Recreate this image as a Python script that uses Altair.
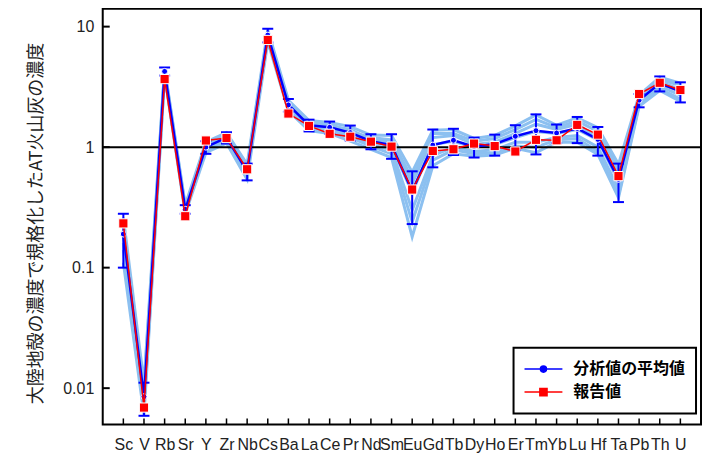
import altair as alt
import pandas as pd

elements = ["Sc", "V", "Rb", "Sr", "Y", "Zr", "Nb", "Cs", "Ba", "La", "Ce", "Pr", "Nd", "Sm",
            "Eu", "Gd", "Tb", "Dy", "Ho", "Er", "Tm", "Yb", "Lu", "Hf", "Ta", "Pb", "Th", "U"]

mean_values = [0.19, 0.0085, 4.25, 0.305, 1.0, 1.2, 0.63, 8.5, 2.24, 1.52, 1.46, 1.32, 1.12, 1.04,
               0.43, 1.04, 1.14, 1.01, 1.06, 1.23, 1.37, 1.31, 1.43, 1.16, 0.54, 2.45, 3.38, 2.9]
mean_sd = [0.09, 0.0026, 0.33, 0.025, 0.12, 0.13, 0.1, 1.1, 0.27, 0.17, 0.17, 0.19, 0.16, 0.24,
           0.2, 0.36, 0.28, 0.19, 0.21, 0.29, 0.5, 0.23, 0.35, 0.31, 0.19, 0.31, 0.48, 0.55]
reported_values = [0.233, 0.0069, 3.67, 0.267, 1.135, 1.19, 0.655, 7.75, 1.9, 1.5, 1.29, 1.22, 1.11, 1.01,
                   0.445, 0.93, 0.96, 1.07, 1.02, 0.92, 1.15, 1.14, 1.53, 1.27, 0.575, 2.76, 3.42, 2.98]

sample_a = [0.26, 0.011, 4.5, 0.33, 1.1, 1.32, 0.72, 9.4, 2.45, 1.66, 1.6, 1.48, 1.26, 1.25,
            0.62, 1.38, 1.4, 1.18, 1.25, 1.5, 1.85, 1.52, 1.75, 1.45, 0.72, 2.7, 3.8, 3.4]
sample_b = [0.11, 0.006, 3.95, 0.28, 0.9, 1.08, 0.54, 7.5, 2.0, 1.37, 1.3, 1.12, 0.96, 0.82,
            0.18, 0.7, 0.88, 0.84, 0.86, 0.98, 0.9, 1.1, 1.1, 0.87, 0.38, 2.18, 2.95, 2.4]
sample_c = [0.2, 0.009, 4.3, 0.31, 1.02, 1.22, 0.6, 8.8, 2.3, 1.55, 1.5, 1.4, 1.15, 1.1,
            0.5, 1.2, 1.25, 1.05, 1.1, 1.3, 1.55, 1.4, 1.55, 1.2, 0.6, 2.5, 3.5, 3.0]
sample_d = [0.16, 0.0075, 4.1, 0.29, 0.95, 1.15, 0.66, 8.0, 2.1, 1.45, 1.38, 1.25, 1.05, 0.95,
            0.3, 0.85, 1.0, 0.92, 0.95, 1.1, 1.1, 1.2, 1.25, 1.0, 0.45, 2.3, 3.2, 2.7]
sample_e = [0.22, 0.01, 4.4, 0.32, 1.06, 1.28, 0.68, 9.0, 2.38, 1.6, 1.55, 1.35, 1.2, 1.15,
            0.55, 1.3, 1.3, 1.12, 1.18, 1.4, 1.7, 1.45, 1.65, 1.35, 0.66, 2.6, 3.65, 3.25]
sample_f = [0.14, 0.007, 4.0, 0.3, 0.98, 1.12, 0.58, 8.2, 2.15, 1.42, 1.35, 1.2, 1.02, 0.88,
            0.24, 0.78, 0.95, 0.88, 0.9, 1.02, 1.0, 1.15, 1.18, 0.92, 0.4, 2.25, 3.05, 2.5]
sample_g = [0.18, 0.0085, 4.2, 0.305, 1.0, 1.2, 0.64, 8.5, 2.25, 1.5, 1.45, 1.3, 1.1, 1.02,
            0.42, 1.05, 1.12, 1.0, 1.05, 1.2, 1.35, 1.3, 1.4, 1.15, 0.52, 2.42, 3.35, 2.9]
samples = [sample_a, sample_b, sample_c, sample_d, sample_e, sample_f, sample_g]

series_names = ["分析値の平均値", "報告値"]
y_ticks = [0.01, 0.1, 1, 10]
y_title = "大陸地殻の濃度で規格化したAT火山灰の濃度"

BLUE = "#0000ff"
RED = "#ff0000"
LIGHT = "#8cc0f0"

# ---- tables ----
rows = []
for i, s in enumerate(samples):
    for el, v in zip(elements, s):
        rows.append({"sample": f"s{i}", "element": el, "value": v})
samples_df = pd.DataFrame(rows)

main_df = pd.DataFrame({
    "element": elements,
    "mean": mean_values,
    "lo": [m - s for m, s in zip(mean_values, mean_sd)],
    "hi": [m + s for m, s in zip(mean_values, mean_sd)],
    "reported": reported_values,
})
caps_df = pd.concat([
    main_df[["element", "lo"]].rename(columns={"lo": "cap"}),
    main_df[["element", "hi"]].rename(columns={"hi": "cap"}),
])
level_df = pd.DataFrame({"level": [1]})
ytick_df = pd.DataFrame({"tick": y_ticks})
xtick_df = pd.DataFrame({"element": elements})
legend_df = pd.DataFrame({"series": series_names})

# ---- scales / axes ----
xscale = alt.Scale(type="point", domain=elements, padding=1)
xaxis = alt.Axis(title=None, domain=False, ticks=False, grid=False, labelAngle=0,
                 labelFont="Liberation Sans", labelFontSize=16, labelColor="#222",
                 labelPadding=12, labelOverlap=False, labelBound=False, labelFlush=False)
yscale = alt.Scale(type="log", domain=[0.005, 14.1], nice=False)
yaxis = alt.Axis(title=y_title, values=y_ticks, format="~g", domain=False, ticks=False, grid=False,
                 labelFont="Liberation Sans", labelFontSize=16, labelColor="#222", labelPadding=9,
                 titleFont="Noto Sans CJK JP", titleFontSize=18, titleFontWeight="normal",
                 titleColor="#222", titlePadding=17, titleY=215)


def X():
    return alt.X("element:N", scale=xscale, axis=xaxis)


def Y(field):
    return alt.Y(field, scale=yscale, axis=yaxis)


sample_lines = alt.Chart(samples_df).mark_line(color=LIGHT, strokeWidth=3).encode(
    x=X(), y=Y("value:Q"), detail="sample:N")

one_line = alt.Chart(level_df).mark_rule(color="black", strokeWidth=2).encode(y=Y("level:Q"))

ytick_marks = alt.Chart(ytick_df).mark_rule(color="black", strokeWidth=2).encode(
    y=Y("tick:Q"), x=alt.value(0), x2=alt.value(7))
xtick_marks = alt.Chart(xtick_df).mark_rule(color="black", strokeWidth=1.5).encode(
    x=X(), y=alt.value(417), y2=alt.value(411))

err_rules = alt.Chart(main_df).mark_rule(color=BLUE, strokeWidth=2).encode(
    x=X(), y=Y("lo:Q"), y2="hi:Q")
err_caps = alt.Chart(caps_df).mark_tick(color=BLUE, thickness=2, size=11, opacity=1).encode(
    x=X(), y=Y("cap:Q"))

mean_line = alt.Chart(main_df).mark_line(color=BLUE, strokeWidth=2.5).encode(x=X(), y=Y("mean:Q"))
mean_pts = alt.Chart(main_df).mark_circle(size=36, color=BLUE, stroke="white", strokeWidth=1,
                                          opacity=1).encode(x=X(), y=Y("mean:Q"))
rep_line = alt.Chart(main_df).mark_line(color=RED, strokeWidth=1.5).encode(x=X(), y=Y("reported:Q"))
rep_pts = alt.Chart(main_df).mark_square(size=85, color=RED, stroke="white", strokeWidth=1,
                                         opacity=1).encode(x=X(), y=Y("reported:Q"))

circle_path = "M-1,0H1M-0.16,0A0.16,0.16,0,1,0,0.16,0A0.16,0.16,0,1,0,-0.16,0Z"
square_path = "M-1,0H1M-0.19,-0.19H0.19V0.19H-0.19Z"
legend = alt.Legend(orient="none", legendX=412, legendY=340, title=None,
                    symbolSize=1444, symbolStrokeWidth=1.5, symbolOpacity=1,
                    clipHeight=23, rowPadding=0, labelOffset=10,
                    labelFont="Noto Sans CJK JP", labelFontSize=16, labelFontWeight="bold",
                    labelColor="black", padding=10, strokeColor="black", fillColor="white")
legend_layer = alt.Chart(legend_df).mark_point(filled=True, opacity=0).encode(
    color=alt.Color("series:N", scale=alt.Scale(domain=series_names, range=[BLUE, RED]), legend=legend),
    stroke=alt.Stroke("series:N", scale=alt.Scale(domain=series_names, range=[BLUE, RED]), legend=legend),
    shape=alt.Shape("series:N", scale=alt.Scale(domain=series_names, range=[circle_path, square_path]),
                    legend=legend),
)

chart = alt.layer(
    sample_lines, one_line, ytick_marks, xtick_marks, err_rules, err_caps,
    mean_line, mean_pts, rep_line, rep_pts, legend_layer
).properties(
    width=600, height=417,
    autosize=alt.AutoSizeParams(type="none"),
    padding={"left": 95, "top": 0, "right": 2, "bottom": 30},
).configure_view(
    stroke="black", strokeWidth=2
).configure_legend(
    strokeWidth=2
)

chart.save("out.html", embed_options={"renderer": "svg", "actions": False})
